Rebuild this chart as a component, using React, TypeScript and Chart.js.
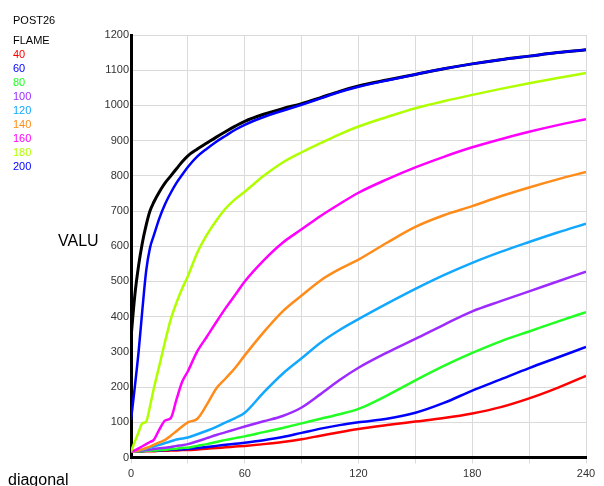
import React, { useEffect, useRef } from "react";
import { Chart, registerables } from "chart.js";

Chart.register(...registerables);

const xs = [0, 2, 4, 6, 8, 10, 12, 15, 18, 21, 24, 27, 30, 35, 40, 45, 50, 55, 60, 70, 80, 90, 100, 110, 120, 135, 150, 165, 180, 195, 210, 225, 240];

const flame40 = [17, 17, 17, 17, 18, 18, 18, 19, 19, 20, 20, 21, 21, 23, 25, 27, 29, 31, 33, 38, 44, 52, 62, 72, 81, 92, 102, 112, 125, 143, 168, 198, 232];
const flame60 = [17, 17, 18, 18, 19, 19, 20, 20, 21, 22, 23, 23, 24, 27, 30, 33, 36, 39, 42, 49, 58, 70, 82, 92, 100, 110, 127, 155, 190, 222, 254, 284, 314];
const flame80 = [17, 17, 18, 18, 19, 19, 20, 21, 22, 24, 25, 27, 28, 33, 38, 44, 50, 55, 60, 72, 84, 97, 110, 123, 138, 176, 219, 260, 297, 330, 358, 386, 413];
const flame100 = [17, 18, 19, 20, 21, 22, 24, 26, 28, 30, 33, 35, 38, 46, 55, 64, 72, 80, 88, 103, 118, 142, 180, 220, 255, 298, 337, 377, 415, 444, 472, 500, 528];
const flame120 = [17, 18, 20, 22, 25, 28, 31, 36, 41, 46, 51, 54, 57, 66, 76, 87, 100, 112, 127, 185, 238, 282, 326, 362, 393, 437, 479, 518, 553, 584, 612, 639, 664];
const flame140 = [17, 18, 20, 23, 27, 31, 36, 43, 50, 62, 75, 88, 100, 110, 150, 196, 225, 255, 290, 356, 415, 460, 503, 535, 562, 610, 655, 688, 714, 742, 767, 790, 811];
const flame160 = [17, 20, 26, 32, 38, 44, 50, 80, 105, 112, 165, 215, 245, 302, 343, 385, 425, 462, 500, 560, 610, 648, 686, 720, 752, 790, 824, 854, 881, 904, 925, 944, 961];
const flame180 = [17, 45, 72, 97, 102, 145, 195, 262, 330, 393, 440, 480, 515, 582, 632, 673, 708, 734, 755, 800, 838, 867, 893, 918, 940, 967, 992, 1012, 1030, 1047, 1063, 1078, 1092];
const flame200 = [107, 200, 300, 420, 530, 595, 630, 680, 720, 752, 780, 803, 825, 855, 877, 897, 914, 931, 945, 967, 985, 1002, 1020, 1038, 1053, 1071, 1088, 1104, 1118, 1130, 1140, 1150, 1158];
const diagonal = [340, 460, 545, 610, 660, 700, 725, 755, 780, 800, 820, 840, 857, 876, 893, 910, 926, 941, 955, 975, 991, 1005, 1022, 1040, 1055, 1072, 1088, 1104, 1118, 1130, 1140, 1150, 1158];

const legendLabels = ["40", "60", "80", "100", "120", "140", "160", "180", "200"];
const legendColors = ["#ff0000", "#0000ff", "#22ff22", "#9d2bff", "#12a8ff", "#ff8c1a", "#ff00ff", "#b0ff00", "#0000ff"];
const seriesValues = [flame40, flame60, flame80, flame100, flame120, flame140, flame160, flame180, flame200];

const FONT = '"Liberation Sans", Arial, sans-serif';

export default function App() {
  const ref = useRef<HTMLCanvasElement | null>(null);

  useEffect(() => {
    if (!ref.current) return;
    const toPts = (vals: number[]) => xs.map((x, i) => ({ x, y: vals[i] }));

    const colored = seriesValues.map((vals, i) => ({
      label: legendLabels[i],
      data: toPts(vals),
      borderColor: legendColors[i],
      backgroundColor: legendColors[i],
      borderWidth: 2.5,
      pointRadius: 0,
      cubicInterpolationMode: "monotone" as const,
      fill: false,
    }));
    const datasets: any[] = colored.slice().reverse();
    datasets.push({
      label: "black",
      data: toPts(diagonal),
      borderColor: "#000000",
      backgroundColor: "#000000",
      borderWidth: 3,
      pointRadius: 0,
      cubicInterpolationMode: "monotone",
      fill: false,
    });

    const textPlugin = {
      id: "texts",
      afterDraw(chart: any) {
        const ctx = chart.ctx;
        ctx.save();
        ctx.textAlign = "left";
        ctx.textBaseline = "alphabetic";
        ctx.font = `11px ${FONT}`;
        ctx.fillStyle = "#000";
        ctx.fillText("POST26", 13, 23.5);
        ctx.fillText("FLAME", 13, 44);
        legendLabels.forEach((l, i) => {
          ctx.fillStyle = legendColors[i];
          ctx.fillText(l, 13, 57.5 + 14 * i);
        });
        ctx.font = `16px ${FONT}`;
        ctx.fillStyle = "#000";
        ctx.fillText("VALU", 58, 246);
        ctx.fillText("diagonal", 8, 485);
        ctx.restore();
      },
    };

    const chart = new Chart(ref.current, {
      type: "line",
      data: { datasets },
      options: {
        animation: false,
        responsive: false,
        layout: { padding: { top: 35, right: 18, left: 0, bottom: 0 } },
        plugins: { legend: { display: false }, tooltip: { enabled: false } },
        scales: {
          x: {
            type: "linear",
            min: 0,
            max: 240,
            afterFit: (s: any) => { s.height = 28.5; },
            grid: { color: "#dadada", lineWidth: 1, tickLength: 6, drawTicks: true },
            border: { color: "#000", width: 3 },
            ticks: {
              stepSize: 30,
              padding: 4,
              color: "#333",
              font: { family: FONT, size: 11 },
              maxRotation: 0,
              autoSkip: false,
              callback: (v: any) => (Number(v) % 60 === 0 ? String(v) : ""),
            },
          },
          y: {
            type: "linear",
            min: 0,
            max: 1200,
            afterFit: (s: any) => { s.width = 131; },
            grid: { color: "#dadada", lineWidth: 1, drawTicks: false },
            border: { color: "#000", width: 3 },
            ticks: {
              stepSize: 100,
              padding: 2,
              color: "#333",
              font: { family: FONT, size: 11 },
              callback: (v: any) => String(v),
            },
          },
        },
      },
      plugins: [textPlugin],
    });
    return () => chart.destroy();
  }, []);

  return (
    <div style={{ position: "absolute", left: 0, top: 0, width: 604, height: 486 }}>
      <canvas ref={ref} width={604} height={486} style={{ width: 604, height: 486, display: "block" }} />
    </div>
  );
}
